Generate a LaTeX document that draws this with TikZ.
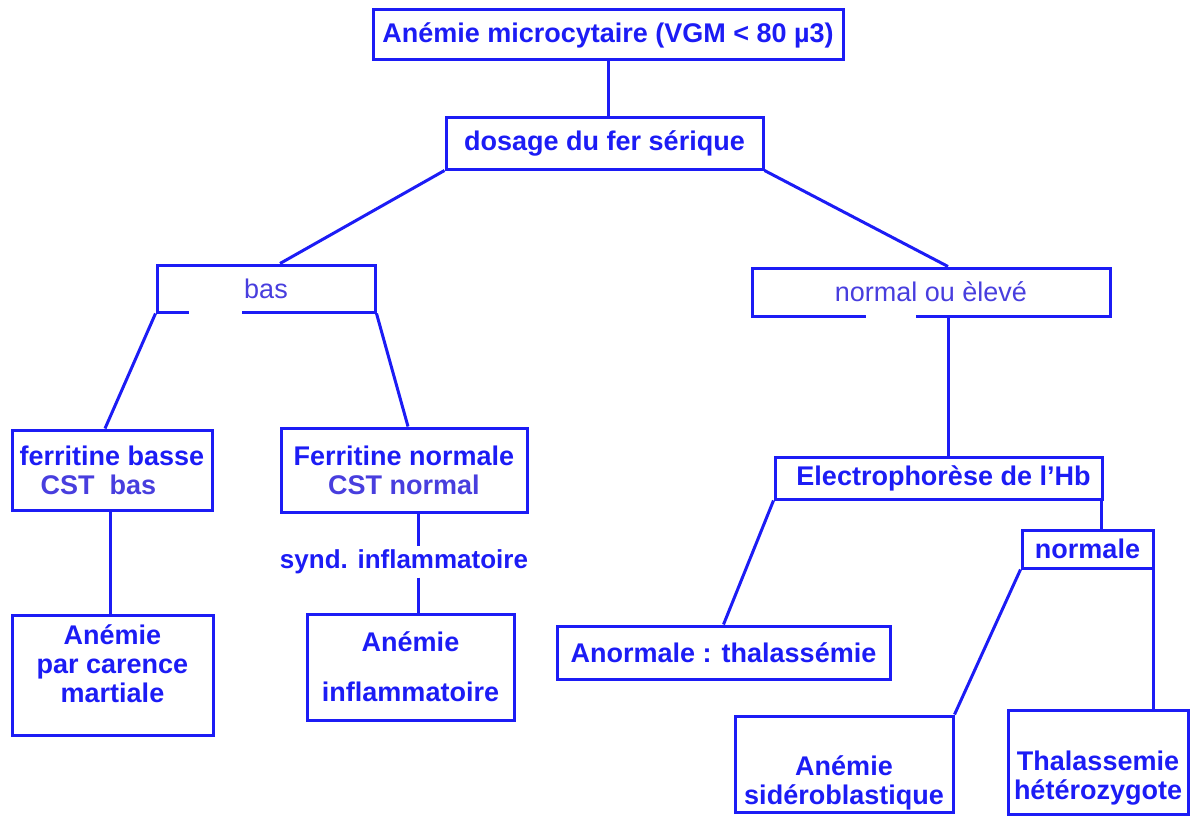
\documentclass[tikz,border=0pt]{standalone}
\usepackage{fontspec}
\setmainfont{Liberation Sans}
\usepackage{tikz}
\usetikzlibrary{positioning,calc}
\definecolor{DB}{RGB}{28,28,245}
\definecolor{DP}{RGB}{72,62,222}

\begin{document}
\begin{tikzpicture}[x=1pt,y=-1pt,
    box/.style={draw=DB, line width=3pt, text=DB, inner sep=2pt,
                align=center, font=\fontsize{27}{29}\selectfont\bfseries},
    link/.style={draw=DB, line width=3pt}]
  \useasboundingbox (0,0) rectangle (1191,816);

  \node[box, minimum width=470, minimum height=50] (micro) at (608,35)
    {Anémie microcytaire (VGM < 80 µ3)};
  \node[box, minimum width=317, minimum height=52] (dosage) at (604.5,143)
    {dosage du fer sérique};

  \node[box, minimum width=218, minimum height=47] (bas) at (266,288.5)
    {\color{DP}\mdseries bas};
  \node[box, minimum width=358, minimum height=48] (haut) at (931,292)
    {\color{DP}\mdseries normal ou èlevé};

  \node[box, align=left, minimum width=200, minimum height=80] (fbasse) at (112,470)
    {ferritine basse\\\hspace*{21pt}{\color{DP}CST~~bas}};
  \node[box, minimum width=246, minimum height=84] (fnorm) at (404,470)
    {Ferritine normale\\{\color{DP}CST normal}};

  \node[box, minimum width=201, minimum height=120, text depth=22pt] (carence) at (112.5,675)
    {Anémie\\par carence\\martiale};
  \node[box, draw=none, font=\fontsize{26}{29}\selectfont\bfseries] (synd) at (404,562)
    {synd. inflammatoire};
  \node[box, minimum width=207, minimum height=106] (inflam) at (410.5,667)
    {Anémie\\[21pt]inflammatoire};

  \node[box, minimum width=327, minimum height=42] (electro) at (938.5,478)
    {\hspace*{10pt}Electrophorèse de l'Hb};
  \node[box, minimum width=333, minimum height=53] (anormale) at (723.5,652.5)
    {Anormale : thalassémie};
  \node[box, minimum width=131, minimum height=38] (normale) at (1087.5,549)
    {normale};
  \node[box, minimum width=218, minimum height=96, text height=86pt] (sidero) at (844,764)
    {Anémie\\sidéroblastique};
  \node[box, minimum width=180, minimum height=104, text height=80pt] (thala) at (1098,762)
    {Thalassemie\\hétérozygote};

  % breaks in the lower edges
  \draw[white, line width=5pt] ($(bas.south west)+(33,0)$) -- ++(53,0);
  \draw[white, line width=5pt] ($(haut.south west)+(115,0)$) -- ++(50,0);

  \draw[link] (micro.south) -- (micro.south |- dosage.north);
  \draw[link] (dosage.south west) -- ([xshift=14pt]bas.north);
  \draw[link] (dosage.south east) -- ([xshift=17pt]haut.north);

  \draw[link] (bas.south west) -- ([xshift=-7pt]fbasse.north);
  \draw[link] (bas.south east) -- ([xshift=4pt]fnorm.north);
  \draw[link] ([xshift=-2pt]fbasse.south) -- ([xshift=-2pt]fbasse.south |- carence.north);
  \draw[link] ([xshift=14pt]fnorm.south) -- ([xshift=14pt]fnorm.south |- synd.north);
  \draw[link] ([xshift=14pt]fnorm.south |- synd.south) -- ([xshift=14pt]fnorm.south |- inflam.north);

  \draw[link] ([xshift=17pt]haut.south) -- ([xshift=17pt]haut.south |- electro.north);
  \draw[link] (electro.south west) -- (anormale.north);
  \draw[link] ([xshift=-2pt]electro.south east) -- ([xshift=-2pt]electro.south east |- normale.north);
  \draw[link] (normale.south west) -- (sidero.north east);
  \draw[link] ([xshift=-1pt]normale.south east) -- ([xshift=-1pt]normale.south east |- thala.north);
\end{tikzpicture}
\end{document}
